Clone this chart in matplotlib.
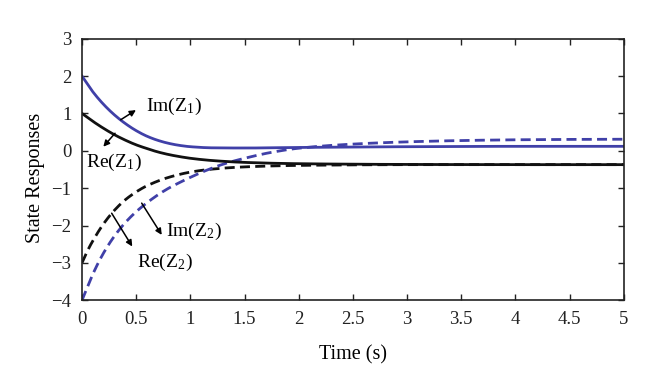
import matplotlib
matplotlib.use("Agg")
import matplotlib.pyplot as plt
import numpy as np

plt.rcParams['font.family'] = ['Liberation Serif', 'DejaVu Serif']
plt.rcParams['mathtext.fontset'] = 'stix'

# Data
t_re_z1 = [0, 0.1, 0.2, 0.3, 0.4, 0.5, 0.6, 0.7, 0.8, 0.9, 1.0, 1.2, 1.5, 2.0, 3.0, 4.0, 5.0]
re_z1 = [1.0, 0.79, 0.6, 0.43, 0.285, 0.16, 0.06, -0.03, -0.1, -0.155, -0.2, -0.26, -0.31, -0.345, -0.365, -0.37, -0.37]

t_im_z1 = [0, 0.1, 0.2, 0.3, 0.4, 0.5, 0.6, 0.7, 0.8, 0.9, 1.0, 1.2, 1.5, 2.0, 3.0, 4.0, 5.0]
im_z1 = [2.0, 1.58, 1.24, 0.96, 0.73, 0.54, 0.39, 0.28, 0.2, 0.145, 0.11, 0.08, 0.075, 0.09, 0.11, 0.12, 0.12]

t_re_z2 = [0, 0.05, 0.1, 0.2, 0.3, 0.4, 0.5, 0.6, 0.8, 1.0, 1.2, 1.5, 2.0, 3.0, 4.0, 5.0]
re_z2 = [-3.0, -2.68, -2.41, -1.95, -1.59, -1.31, -1.1, -0.935, -0.71, -0.57, -0.49, -0.43, -0.39, -0.37, -0.37, -0.37]

t_im_z2 = [0, 0.1, 0.2, 0.3, 0.4, 0.5, 0.6, 0.7, 0.8, 0.9, 1.0, 1.15, 1.3, 1.5, 1.75, 2.0, 2.5, 3.0, 3.5, 4.0, 4.5, 5.0]
im_z2 = [-4.0, -3.3, -2.73, -2.28, -1.92, -1.63, -1.39, -1.18, -1.0, -0.85, -0.71, -0.52, -0.36, -0.2, -0.04, 0.07, 0.18, 0.24, 0.275, 0.295, 0.305, 0.31]

xticks = [0, 0.5, 1, 1.5, 2, 2.5, 3, 3.5, 4, 4.5, 5]
xtick_labels = ['0', '0.5', '1', '1.5', '2', '2.5', '3', '3.5', '4', '4.5', '5']
yticks = [-4, -3, -2, -1, 0, 1, 2, 3]
ytick_labels = ['\u22124', '\u22123', '\u22122', '\u22121', '0', '1', '2', '3']

def smooth(tx, ty, n=500):
    tt = np.linspace(tx[0], tx[-1], n)
    # monotone piecewise cubic (PCHIP) through the read points
    x = np.asarray(tx, float); y = np.asarray(ty, float)
    h = np.diff(x); d = np.diff(y) / h
    m = np.zeros_like(y)
    for k in range(1, len(x) - 1):
        if d[k-1] * d[k] > 0:
            w1 = 2*h[k] + h[k-1]; w2 = h[k] + 2*h[k-1]
            m[k] = (w1 + w2) / (w1/d[k-1] + w2/d[k])
    m[0] = d[0]; m[-1] = d[-1]
    idx = np.clip(np.searchsorted(x, tt) - 1, 0, len(x) - 2)
    s = (tt - x[idx]) / h[idx]
    h00 = 2*s**3 - 3*s**2 + 1; h10 = s**3 - 2*s**2 + s
    h01 = -2*s**3 + 3*s**2; h11 = s**3 - s**2
    yy = h00*y[idx] + h10*h[idx]*m[idx] + h01*y[idx+1] + h11*h[idx]*m[idx+1]
    return tt, yy

blue = '#4040a8'
black = '#111111'

fig = plt.figure(figsize=(6.6, 3.91), dpi=100)
ax = fig.add_axes([0.1242, 0.232, 0.821, 0.669])

lw = 2.0
ax.plot(*smooth(t_re_z2, re_z2), color=black, lw=lw, dashes=(3.6, 1.9))
ax.plot(*smooth(t_im_z2, im_z2), color=blue, lw=lw, dashes=(3.6, 1.9))
ax.plot(*smooth(t_re_z1, re_z1), color=black, lw=lw)
ax.plot(*smooth(t_im_z1, im_z1), color=blue, lw=lw)

ax.set_xlim(0, 5)
ax.set_ylim(-4, 3)
ax.set_xticks(xticks)
ax.set_xticklabels(xtick_labels)
ax.set_yticks(yticks)
ax.set_yticklabels(ytick_labels)
ax.tick_params(direction='in', length=4, width=1, top=True, right=True,
               labelsize=13.5, colors='#222222')
ax.tick_params(axis='x', pad=8)
ax.tick_params(axis='y', pad=7.5)
for sp in ax.spines.values():
    sp.set_linewidth(1.2)
    sp.set_color('#222222')

ax.set_xlabel('Time (s)', fontsize=14.5)
ax.set_ylabel('State Responses', fontsize=14.5)
ax.xaxis.set_label_coords(0.5, -0.171)
ax.yaxis.set_label_coords(-0.068, 0.4675)

ap = dict(arrowstyle='-|>', lw=1.1, color='black', mutation_scale=9, shrinkA=0, shrinkB=0)
fs = 14
ax.annotate('', xy=(0.498, 1.09), xytext=(0.357, 0.83), arrowprops=ap)
ax.text(0.846, 1.19, r'Im(Z$_\mathregular{1}$)', fontsize=fs, ha='center', va='center')
ax.annotate('', xy=(0.197, 0.11), xytext=(0.305, 0.47), arrowprops=ap)
ax.text(0.295, -0.32, r'Re(Z$_\mathregular{1}$)', fontsize=fs, ha='center', va='center')
ax.annotate('', xy=(0.736, -2.25), xytext=(0.551, -1.40), arrowprops=ap)
ax.text(1.034, -2.17, r'Im(Z$_\mathregular{2}$)', fontsize=fs, ha='center', va='center')
ax.annotate('', xy=(0.464, -2.56), xytext=(0.274, -1.67), arrowprops=ap)
ax.text(0.766, -3.0, r'Re(Z$_\mathregular{2}$)', fontsize=fs, ha='center', va='center')

fig.savefig('out.png', dpi=100)
